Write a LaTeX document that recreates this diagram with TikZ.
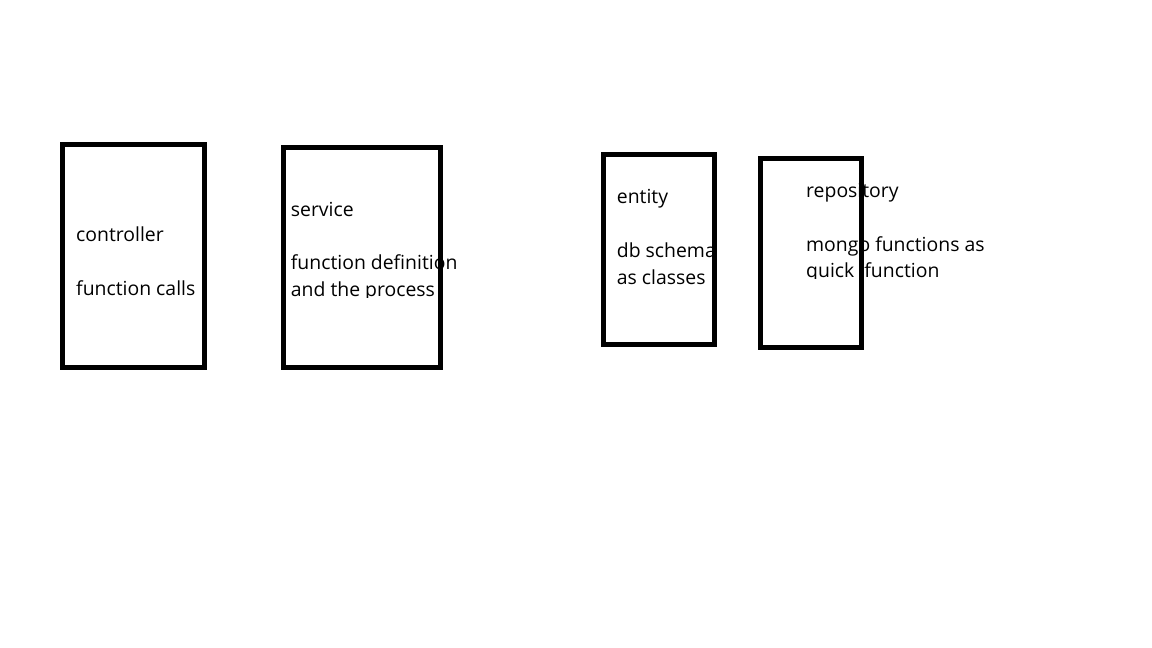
\documentclass[tikz,border=0pt]{standalone}
\usepackage{fontspec}
\setmainfont{Open Sans}
\usetikzlibrary{positioning}
\tikzset{%
    layer/.style={draw, line width=4.5pt, minimum width=#1, inner sep=0pt},
    txt/.style={anchor=base west, inner sep=0pt, font=\fontsize{19.4pt}{27pt}\selectfont}
}

\begin{document}
\begin{tikzpicture}[x=1pt,y=-1pt]
    \useasboundingbox[fill=white] (0,0) rectangle (1152,648);
    % texts first, the boxes go over them
    \node[txt] (ctrlname) at (76,241) {controller};
    \node[txt] (ctrlnote) at (76,295) {function calls};
    \node[txt] (servname) at (290.7,216) {service};
    \node[txt] (servnote) at (290.7,269.7) {function definition};
    \begin{scope}
        \clip (280,275) rectangle (480,297.5);
        \node[txt] (servmore) at (290.7,296.7) {and the process};
    \end{scope}
    \node[txt] (entname) at (616.7,203) {entity};
    \node[txt] (entnote) at (616.7,257) {db schema};
    \node[txt] (entmore) at (616.7,284) {as classes};
    \node[txt] (reponame) at (806,197) {repository};
    \node[txt] (reponote) at (806,251) {mongo functions as};
    \begin{scope}
        \clip (800,255) rectangle (1000,278.5);
        \node[txt] (repomore) at (806,277.7) {quick\ \ function};
    \end{scope}
    % the four boxes
    \node[layer=142pt, minimum height=223pt] (controller) at (133.5,256) {};
    \node[layer=157pt, minimum height=220pt] (service) at (362,257.5) {};
    \node[layer=111pt, minimum height=190pt] (entity) at (659,249.5) {};
    \node[layer=101pt, minimum height=189pt] (repository) at (811,253) {};
\end{tikzpicture}
\end{document}
